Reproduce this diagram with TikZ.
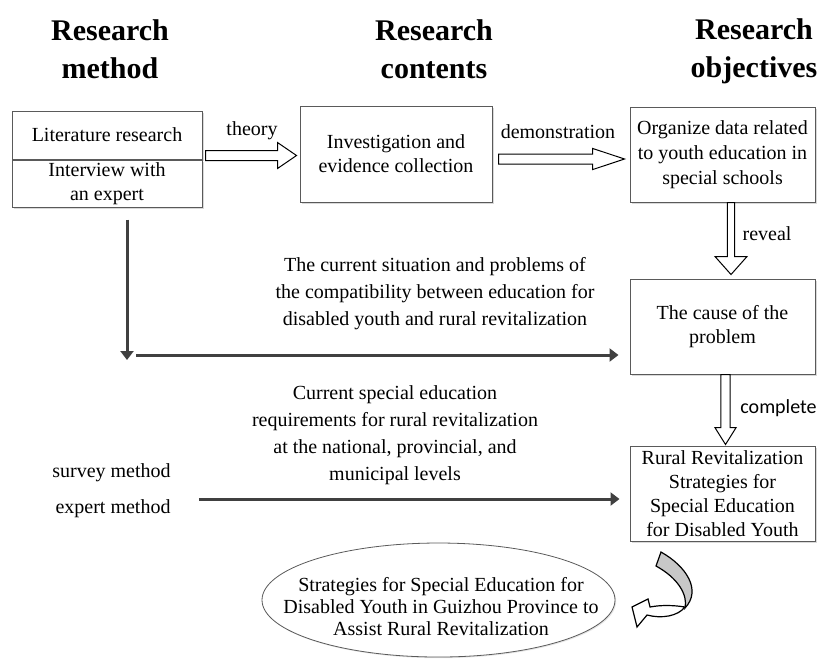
\documentclass[tikz,border=0pt]{standalone}
\usepackage{fontspec}
\setmainfont{Liberation Serif}
\newfontfamily\calibrifont{Carlito}
\usetikzlibrary{positioning,arrows.meta,calc,shadows,shapes.geometric}

\definecolor{linegray}{RGB}{90,90,90}
\definecolor{arrowgray}{RGB}{64,64,64}
\definecolor{bendgray}{RGB}{200,200,200}

\tikzset{
  heading/.style={font=\fontsize{15}{19}\selectfont\bfseries, align=center, inner sep=0pt},
  box/.style={draw=linegray, line width=0.5pt, fill=white, align=center,
    font=\fontsize{10}{12}\selectfont, inner sep=1pt,
    drop shadow={shadow xshift=0.8pt, shadow yshift=-0.8pt, opacity=0.3}},
  textlabel/.style={font=\fontsize{10}{13.5}\selectfont, align=center, inner sep=0pt},
  thickarrow/.style={draw=arrowgray, line width=1.5pt, -{Triangle[length=4.5pt,width=6.5pt]}},
  hollow/.style={draw=black, line width=0.5pt, fill=white},
}

% hollow block arrows: start, tip, head length, head half width, shaft half width
\newcommand{\harrow}[5]{%
  \draw[hollow] let \p1=(#1), \p2=(#2) in
    (\x1,\y1+#5) -- (\x2-#3,\y1+#5) -- (\x2-#3,\y1+#4) -- (\x2,\y1)
    -- (\x2-#3,\y1-#4) -- (\x2-#3,\y1-#5) -- (\x1,\y1-#5) -- cycle;}
\newcommand{\varrow}[5]{%
  \draw[hollow] let \p1=(#1), \p2=(#2) in
    (\x1-#5,\y1) -- (\x1-#5,\y2+#3) -- (\x1-#4,\y2+#3) -- (\x1,\y2)
    -- (\x1+#4,\y2+#3) -- (\x1+#5,\y2+#3) -- (\x1+#5,\y1) -- cycle;}

\begin{document}
\begin{tikzpicture}[x=0.5pt,y=-0.5pt]
  \useasboundingbox (0,0) rectangle (817,661);

  % column headings
  \node[heading] (hmethod) at (110,49) {Research\\method};
  \node[heading] (hcontents) at (434,49) {Research\\contents};
  \node[heading] (hobjectives) at (754,51) {Research\\objectives};

  % boxes
  \node[box, minimum width=95pt, minimum height=24pt] (lit) at (107,135) {Literature research};
  \node[box, minimum width=95pt, minimum height=23.5pt, below=0pt of lit] (intv) {Interview with\\an expert};
  \node[box, minimum width=96pt, minimum height=48pt] (inv) at (396,154) {Investigation and\\evidence collection};
  \node[box, minimum width=92.5pt, minimum height=47.5pt, font=\fontsize{10}{12.5}\selectfont] (org) at (722.5,154.5) {Organize data related\\to youth education in\\special schools};
  \node[box, minimum width=92.5pt, minimum height=47.5pt] (cause) at (722.5,326.5) {The cause of the\\problem};
  \node[box, minimum width=92.5pt, minimum height=47.5pt] (rrs) at (722.5,493.5) {Rural Revitalization\\Strategies for\\Special Education\\for Disabled Youth};

  \node[draw=linegray, ellipse, minimum width=176.5pt, minimum height=57pt, inner sep=0pt,
    drop shadow={shadow xshift=0.6pt, shadow yshift=-0.6pt, opacity=0.2}, fill=white] (goal) at (438.5,600) {};
  \node[textlabel, font=\fontsize{10}{11}\selectfont] (goaltext) at (441,607) {Strategies for Special Education for\\Disabled Youth in Guizhou Province to\\Assist Rural Revitalization};

  % labels
  \node[textlabel, anchor=base] (theory) at (252,135) {theory};
  \node[textlabel, anchor=base] (demo) at (558,138) {demonstration};
  \node[textlabel, anchor=base] (reveal) at (767,240) {reveal};
  \node[textlabel, anchor=base west, font=\calibrifont\fontsize{10}{12}\selectfont] (complete) at (740,413) {complete};
  \node[textlabel] (situation) at (435,294) {The current situation and problems of\\the compatibility between education for\\disabled youth and rural revitalization};
  \node[textlabel] (require) at (395,435) {Current special education\\requirements for rural revitalization\\at the national, provincial, and\\municipal levels};
  \node[textlabel, anchor=base] (survey) at (111.5,477) {survey method};
  \node[textlabel, anchor=base] (expert) at (113,513) {expert method};

  % hollow arrows
  \harrow{[xshift=1.5pt,yshift=2pt]lit.south east}{[xshift=-1.5pt]inv.west}{9.5pt}{6.5pt}{2.5pt}
  \harrow{[xshift=3pt,yshift=-2.5pt]inv.east}{[xshift=-2.5pt]org.west}{16pt}{5.3pt}{2.5pt}
  \varrow{[xshift=4.25pt]org.south}{[yshift=2pt]cause.north}{9pt}{8pt}{1.8pt}
  \varrow{[xshift=1.5pt]cause.south}{[yshift=0.5pt]rrs.north}{8.5pt}{5.3pt}{2.3pt}

  % dark arrows
  \coordinate (turn) at (127,360);
  \draw[thickarrow] ([xshift=10pt,yshift=-6pt]intv.south) -- (turn);
  \coordinate (hstart) at ([xshift=4.5pt,yshift=2.5pt]turn);
  \coordinate (hend) at (hstart -| cause.west);
  \draw[thickarrow] (hstart) -- ([xshift=-5.5pt]hend);
  \coordinate (bstart) at ([xshift=14pt,yshift=7pt]expert.base east);
  \coordinate (bend) at (bstart -| rrs.west);
  \draw[thickarrow] (bstart) -- ([xshift=-5pt]bend);

  % curved arrow towards the goal
  \filldraw[fill=bendgray, draw=black, line width=0.6pt] (661,552) .. controls (686,566) and (702,590) .. (685,608)
    .. controls (688,595) and (678,578) .. (656,566) -- cycle;
  \filldraw[fill=white, draw=black, line width=0.6pt] (685,607) .. controls (673,605) and (660,605) .. (650,607)
    -- (648,599) -- (632,607) -- (637,627) -- (647,615) .. controls (662,619) and (678,616) .. (685,607) -- cycle;
\end{tikzpicture}
\end{document}
